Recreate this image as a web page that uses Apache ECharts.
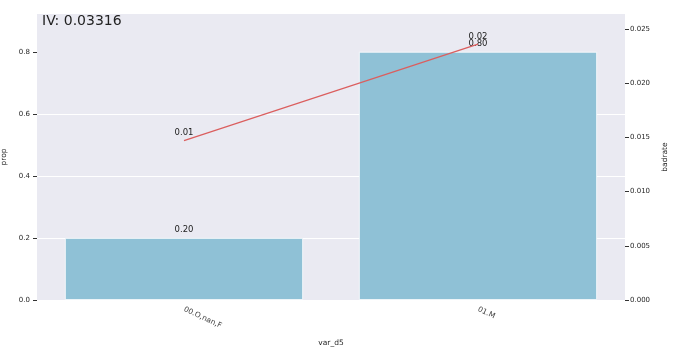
<!DOCTYPE html>
<html>
<head>
<meta charset="utf-8">
<script src="https://cdn.jsdelivr.net/npm/echarts@6/dist/echarts.min.js"></script>
<style>html,body{margin:0;padding:0;background:#fff}#c{width:684px;height:356px}</style>
</head>
<body>
<div id="c"></div>
<script>
const categories = ['00.O,nan,F', '01.M'];
const propValues = [0.20, 0.80];
const badrateValues = [0.0147, 0.0236];
const propTicks = [0, 0.2, 0.4, 0.6, 0.8];
const badrateTicks = [0, 0.005, 0.01, 0.015, 0.02, 0.025];
const titleText = 'IV: 0.03316';

const FONT = 'DejaVu Sans';
const TXT = '#262626';
const chart = echarts.init(document.getElementById('c'), null, {renderer: 'canvas'});
chart.setOption({
  backgroundColor: '#ffffff',
  animation: false,
  textStyle: {fontFamily: FONT},
  title: {
    text: titleText, left: 37, top: 9,
    textStyle: {fontFamily: FONT, fontSize: 14, fontWeight: 'normal', color: '#222'}
  },
  grid: {left: 37, right: 59, top: 14, bottom: 56, show: true, backgroundColor: '#EAEAF2', borderWidth: 0,
         containLabel: false, outerBoundsMode: 'none'},
  xAxis: {
    type: 'category', data: categories,
    name: 'var_d5', nameLocation: 'middle', nameGap: 39,
    nameTextStyle: {fontFamily: FONT, fontSize: 7.5, color: TXT},
    axisLine: {show: false}, axisTick: {show: false},
    axisLabel: {rotate: -25, margin: 9, fontFamily: FONT, fontSize: 7.5, color: '#444'}
  },
  yAxis: [{
    type: 'value', min: 0, max: 0.922, interval: 0.2,
    name: 'prop', nameLocation: 'middle', nameGap: 25, nameRotate: 90,
    nameTextStyle: {fontFamily: FONT, fontSize: 7.5, color: TXT},
    axisLine: {show: false},
    axisTick: {show: true, length: 4, inside: false, lineStyle: {color: '#333'}, customValues: propTicks},
    axisLabel: {fontFamily: FONT, fontSize: 7, color: TXT, margin: 7, customValues: propTicks, formatter: v => v.toFixed(1)},
    splitLine: {show: true, showMinLine: false, showMaxLine: false, lineStyle: {color: '#ffffff', width: 1}}
  }, {
    type: 'value', min: 0, max: 0.02638, interval: 0.005, position: 'right',
    name: 'badrate', nameLocation: 'middle', nameGap: 33, nameRotate: 90,
    nameTextStyle: {fontFamily: FONT, fontSize: 7.5, color: TXT},
    axisLine: {show: false},
    axisTick: {show: true, length: 4, lineStyle: {color: '#333'}, customValues: badrateTicks},
    axisLabel: {fontFamily: FONT, fontSize: 7, color: TXT, margin: 5, customValues: badrateTicks, formatter: v => v.toFixed(3)},
    splitLine: {show: false}
  }],
  series: [{
    type: 'bar', data: propValues, yAxisIndex: 0, barCategoryGap: '19%',
    itemStyle: {color: '#8FC1D6', borderColor: '#ffffff', borderWidth: 0.8},
    label: {show: true, position: 'top', distance: 4, fontFamily: FONT, fontSize: 8.5, color: '#222', formatter: p => p.value.toFixed(2)}
  }, {
    type: 'line', data: badrateValues, yAxisIndex: 1, symbol: 'circle', symbolSize: 2, showSymbol: true,
    itemStyle: {color: 'rgba(219,94,94,0)', borderWidth: 0},
    lineStyle: {color: '#DB5E5E', width: 1.2},
    labelLayout: {hideOverlap: false},
    label: {show: true, position: 'top', distance: 2, fontFamily: FONT, fontSize: 8.5, color: '#222', formatter: p => p.value.toFixed(2)}
  }]
});
</script>
</body>
</html>
